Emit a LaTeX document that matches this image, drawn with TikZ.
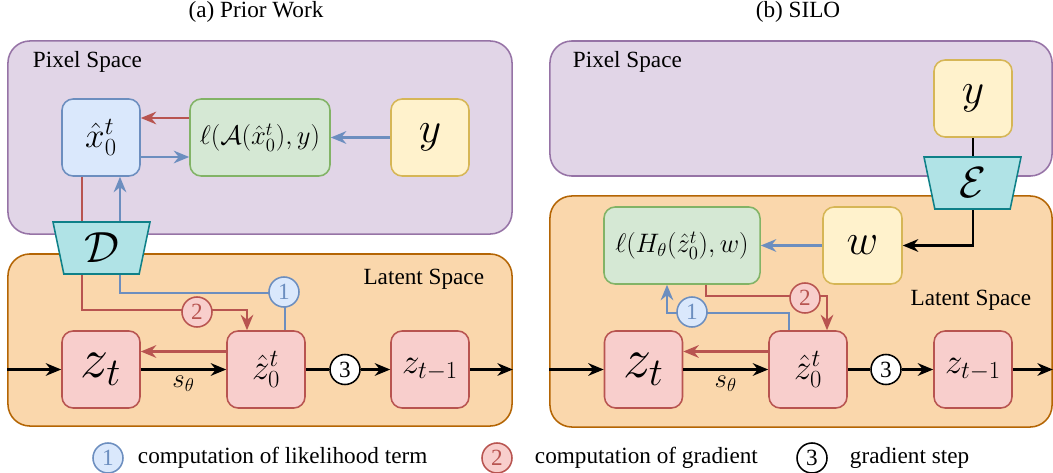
\RequirePackage{fix-cm}
\documentclass[tikz,border=0pt]{standalone}
\usepackage[no-math]{fontspec}
\setmainfont{Liberation Serif}
\usetikzlibrary{positioning,calc,shapes.geometric,arrows.meta}

\definecolor{pixfill}{HTML}{E1D5E7}
\definecolor{pixdraw}{HTML}{9673A6}
\definecolor{latfill}{HTML}{FAD7AC}
\definecolor{latdraw}{HTML}{B46504}
\definecolor{bfill}{HTML}{DAE8FC}
\definecolor{bdraw}{HTML}{6C8EBF}
\definecolor{gfill}{HTML}{D5E8D4}
\definecolor{gdraw}{HTML}{82B366}
\definecolor{yfill}{HTML}{FFF2CC}
\definecolor{ydraw}{HTML}{D6B656}
\definecolor{rfill}{HTML}{F8CECC}
\definecolor{rdraw}{HTML}{B85450}
\definecolor{tfill}{HTML}{B0E3E6}
\definecolor{tdraw}{HTML}{0E8088}

\newcommand{\fsz}[1]{\fontsize{#1}{#1}\selectfont}

\begin{document}
\begin{tikzpicture}[x=0.025cm, y=-0.025cm,
    font=\fsz{16.5},
    space/.style={draw, line width=1.1pt, rounded corners=0.55cm, minimum width=12.6cm},
    box/.style={draw, line width=1.1pt, rounded corners=0.28cm, minimum width=1.95cm,
      minimum height=1.925cm, inner sep=0pt},
    bluebox/.style={box, fill=bfill, draw=bdraw},
    greenbox/.style={box, fill=gfill, draw=gdraw},
    yellowbox/.style={box, fill=yfill, draw=ydraw},
    redbox/.style={box, fill=rfill, draw=rdraw},
    coder/.style={trapezium, shape border rotate=180, trapezium stretches body,
      trapezium angle=70, minimum width=2.425cm, minimum height=1.3cm, inner sep=0pt,
      draw=tdraw, fill=tfill, line width=1.1pt, font=\fsz{31}},
    num/.style={circle, draw, line width=1.1pt, minimum size=0.75cm, inner sep=0pt},
    num1/.style={num, fill=bfill, draw=bdraw, text=bdraw},
    num2/.style={num, fill=rfill, draw=rdraw, text=rdraw},
    num3/.style={num, fill=white, draw=black},
    flow/.style={line width=1.5pt, -{Stealth[length=11pt,width=9pt]}},
    rline/.style={draw=rdraw},
    bline/.style={draw=bdraw}
  ]
  \useasboundingbox (0,0) rectangle (1053,473);

  % spaces
  \node[space, fill=pixfill, draw=pixdraw, minimum height=4.825cm] (pixL) at (260,137.5) {};
  \node[space, fill=latfill, draw=latdraw, minimum height=4.3cm] (latL) at (260,340) {};
  \node[space, fill=pixfill, draw=pixdraw, minimum width=12.55cm, minimum height=3.375cm] (pixR) at (801,108.5) {};
  \node[space, fill=latfill, draw=latdraw, minimum width=12.55cm, minimum height=5.775cm] (latR) at (801,311.5) {};

  % titles and space labels
  \node (titleL) at (256,12) {(a) Prior Work};
  \node (titleR) at (798,12) {(b) SILO};
  \node[anchor=west] (pixLlbl) at (28,62) {Pixel Space};
  \node[anchor=east] (latLlbl) at (489,279) {Latent Space};
  \node[anchor=west] (pixRlbl) at (568,62) {Pixel Space};
  \node[anchor=east] (latRlbl) at (1036,300) {Latent Space};

  % (a) prior work
  \node[bluebox, font=\fsz{25}] (xhat) at (101,137.5) {$\hat{x}_0^t$};
  \node[greenbox, minimum width=3.5cm, font=\fsz{19}] (loss) at (260,137.5) {$\ell(\mathcal{A}(\hat{x}_0^t), y)$};
  \node[yellowbox, font=\fsz{31}] (obsL) at (430,137.5) {$y$};
  \node[redbox, font=\fsz{40}] (zt) at (101,369.5) {$z_t$};
  \node[redbox, font=\fsz{25}] (zhat) at (266,369.5) {$\hat{z}_0^t$};
  \node[redbox, font=\fsz{25}] (ztm) at (430,369.5) {$z_{t-1}$};
  \node[num3] (sL) at (345,369.5) {3};

  \draw[flow] (latL.west |- zt) -- (zt);
  \draw[flow] (zt) -- node[below, inner sep=4pt, font=\fsz{19}] {$s_\theta$} (zhat);
  \draw[line width=1.5pt] (zhat) -- (sL);
  \draw[flow] (sL) -- (ztm);
  \draw[flow] (ztm) -- (latL.east |- ztm);
  \draw[flow, rline] ($(zhat.west)+(0,-18)$) -- ($(zt.east)+(0,-18)$);
  \draw[flow, rline] ($(loss.west)+(0,-19.5)$) -- ($(xhat.east)+(0,-19.5)$);
  \draw[flow, bline] ($(xhat.east)+(0,19.5)$) -- ($(loss.west)+(0,19.5)$);
  \draw[flow, bline] (obsL) -- (loss);
  \draw[flow, rline] ($(xhat.south)+(-19,0)$) |- ($(zhat.north)+(-19,-20)$) -- ($(zhat.north)+(-19,0)$);
  \draw[flow, bline] ($(zhat.north)+(19,0)$) |- ($(xhat.south)+(19,116)$) -- ($(xhat.south)+(19,0)$);

  \node[num1] (c1L) at (284,292) {1};
  \node[num2] (c2L) at (197,312) {2};
  \node[coder] (dec) at (101.5,248) {$\mathcal{D}$};

  % (b) SILO
  \node[yellowbox, font=\fsz{31}] (obsR) at (973,98.5) {$y$};
  \node[yellowbox, minimum width=1.975cm, font=\fsz{31}] (wR) at (862.5,245.5) {$w$};
  \node[greenbox, minimum width=3.9cm, font=\fsz{19}] (lossR) at (682,245.5) {$\ell(H_\theta(\hat{z}_0^t), w)$};
  \node[redbox, font=\fsz{40}] (ztR) at (643.5,369.5) {$z_t$};
  \node[redbox, font=\fsz{25}] (zhatR) at (808,369.5) {$\hat{z}_0^t$};
  \node[redbox, font=\fsz{25}] (ztmR) at (973,369.5) {$z_{t-1}$};
  \node[num3] (sR) at (886,369.5) {3};

  \draw[flow] (latR.west |- ztR) -- (ztR);
  \draw[flow] (ztR) -- node[below, inner sep=4pt, font=\fsz{19}] {$s_\theta$} (zhatR);
  \draw[line width=1.5pt] (zhatR) -- (sR);
  \draw[flow] (sR) -- (ztmR);
  \draw[flow] (ztmR) -- (latR.east |- ztmR);
  \draw[flow] (obsR) |- (wR);
  \draw[flow, bline] (wR) -- (lossR);
  \draw[flow, rline] ($(zhatR.west)+(0,-18)$) -- ($(ztR.east)+(0,-18)$);
  \draw[flow, rline] ($(lossR.south)+(24,0)$) |- ($(zhatR.north)+(19,-34)$) -- ($(zhatR.north)+(19,0)$);
  \draw[flow, bline] ($(zhatR.north)+(-19,0)$) |- ($(lossR.south)+(-15,28)$) -- ($(lossR.south)+(-15,0)$);

  \node[num1] (c1R) at (692,312) {1};
  \node[num2] (c2R) at (805,298) {2};
  \node[coder] (enc) at (972.5,183) {$\mathcal{E}$};

  % legend
  \node[num1] (key1) at (108,458) {1};
  \node[anchor=west] (key1txt) at (133,458) {computation of likelihood term};
  \node[num2] (key2) at (497,458) {2};
  \node[anchor=west] (key2txt) at (530,458) {computation of gradient};
  \node[num3] (key3) at (812,458) {3};
  \node[anchor=west] (key3txt) at (845,458) {gradient step};
\end{tikzpicture}
\end{document}
